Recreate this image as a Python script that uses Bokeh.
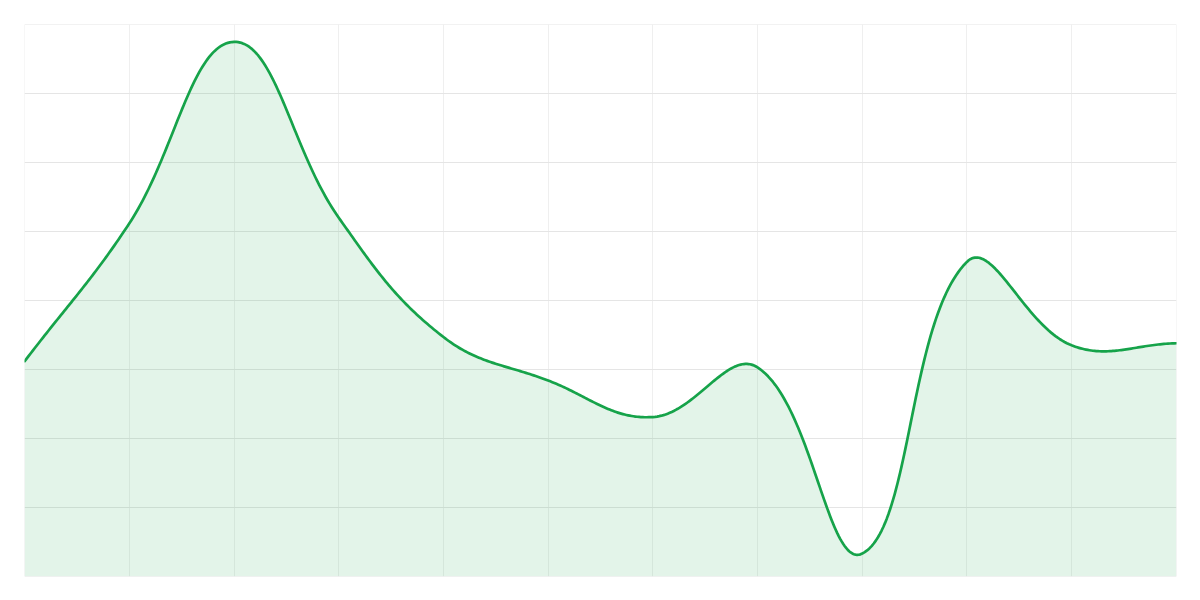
import math
import numpy as np
from bokeh.plotting import figure
from bokeh.models import Range1d, FixedTicker
from bokeh.embed import file_html
from bokeh.resources import INLINE

# Data (12 points, evenly spaced)
x_index = list(range(12))
values = [31.2, 51.2, 77.5, 52.0, 34.7, 28.4, 23.1, 30.3, 3.3, 45.6, 33.5, 33.8]
y_ticks = [0, 10, 20, 30, 40, 50, 60, 70, 80]
x_ticks = x_index

X_MIN, X_MAX = 0, 11
Y_MIN, Y_MAX = 0, 80
PLOT_W, PLOT_H = 1152, 552
SX = PLOT_W / (X_MAX - X_MIN)
SY = PLOT_H / (Y_MAX - Y_MIN)


def spline_curve(xs, ys, tension=0.4, n=60):
    """Chart.js-style tension spline, computed in pixel space."""
    px = (np.asarray(xs, float) - X_MIN) * SX
    py = (np.asarray(ys, float) - Y_MIN) * SY
    N = len(px)
    prev_cp, next_cp = [], []
    for i in range(N):
        a = max(i - 1, 0)
        c = min(i + 1, N - 1)
        d01 = math.hypot(px[i] - px[a], py[i] - py[a])
        d12 = math.hypot(px[c] - px[i], py[c] - py[i])
        tot = d01 + d12
        s01 = d01 / tot if tot else 0.0
        s12 = d12 / tot if tot else 0.0
        fa, fb = tension * s01, tension * s12
        dx, dy = px[c] - px[a], py[c] - py[a]
        pc = (px[i] - fa * dx, py[i] - fa * dy)
        nc = (px[i] + fb * dx, py[i] + fb * dy)
        clamp = lambda p: (min(max(p[0], 0), PLOT_W), min(max(p[1], 0), PLOT_H))
        prev_cp.append(clamp(pc))
        next_cp.append(clamp(nc))
    out_x, out_y = [px[0]], [py[0]]
    t = np.linspace(0, 1, n)[1:]
    for i in range(N - 1):
        p0 = (px[i], py[i])
        c1 = next_cp[i]
        c2 = prev_cp[i + 1]
        p3 = (px[i + 1], py[i + 1])
        bx = ((1 - t) ** 3) * p0[0] + 3 * ((1 - t) ** 2) * t * c1[0] + 3 * (1 - t) * t ** 2 * c2[0] + t ** 3 * p3[0]
        by = ((1 - t) ** 3) * p0[1] + 3 * ((1 - t) ** 2) * t * c1[1] + 3 * (1 - t) * t ** 2 * c2[1] + t ** 3 * p3[1]
        out_x.extend(bx)
        out_y.extend(by)
    return np.array(out_x) / SX + X_MIN, np.array(out_y) / SY + Y_MIN


cx, cy = spline_curve(x_index, values)

p = figure(
    width=1200, height=600,
    x_range=Range1d(X_MIN - 0.002, X_MAX + 0.002),
    y_range=Range1d(Y_MIN - 0.02, Y_MAX + 0.02),
    output_backend="svg", toolbar_location=None,
    min_border_left=24, min_border_right=24, min_border_top=24, min_border_bottom=24,
)
p.xaxis.visible = False
p.yaxis.visible = False
p.outline_line_color = None
p.background_fill_color = "white"
p.border_fill_color = "white"

p.xgrid.ticker = FixedTicker(ticks=x_ticks)
p.ygrid.ticker = FixedTicker(ticks=y_ticks)
p.xgrid.grid_line_color = "#efefef"
p.ygrid.grid_line_color = "#e5e5e5"
p.xgrid.grid_line_width = 1
p.ygrid.grid_line_width = 1

p.varea(x=cx, y1=np.zeros_like(cy), y2=cy, fill_color="#16a34a", fill_alpha=0.12)
p.line(cx, cy, line_color="#16a34a", line_width=2.7, line_join="round", line_cap="round")

open("out.html", "w").write(file_html(p, INLINE))
